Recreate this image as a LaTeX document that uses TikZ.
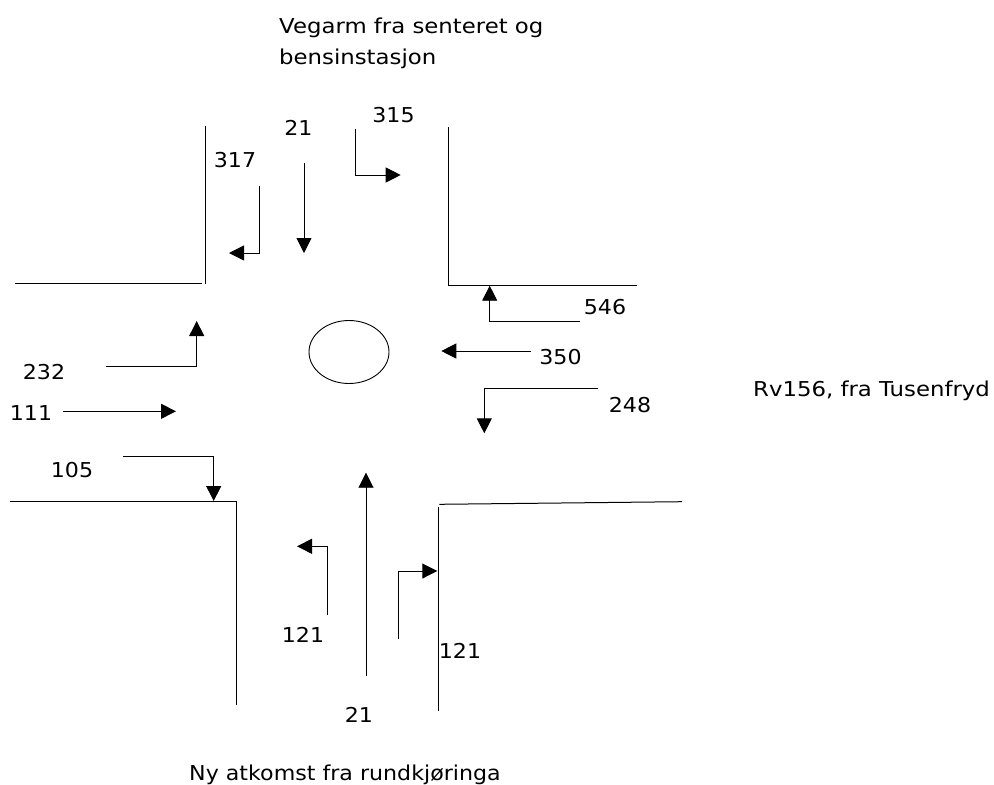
\documentclass[tikz,border=0pt]{standalone}
\usepackage{fontspec}
\setmainfont{DejaVu Sans}
\usetikzlibrary{arrows.meta, shapes.geometric}
\tikzset{
  arr/.style={-{Triangle[length=15pt,width=15pt]}, line width=0.9pt, draw=black},
  wall/.style={line width=1pt, draw=black},
  lab/.style={font=\fontsize{20.5}{31}\selectfont, align=left, inner sep=0pt, xscale=1.08},
  wide/.style={lab, xscale=1.03}
}

\begin{document}
\begin{tikzpicture}[x=1pt,y=-1pt]
\useasboundingbox (0,0) rectangle (994,785);
% labels
\node[wide, anchor=west] (north) at (279,43) {Vegarm fra senteret og\\bensinstasjon};
\node[wide, anchor=west] (east) at (753,391) {Rv156, fra Tusenfryd};
\node[lab, anchor=west] (south) at (189,775) {Ny atkomst fra rundkjøringa};
\node[lab] (n21) at (298.5,128) {21};
\node[lab] (n315) at (393.5,115) {315};
\node[lab] (n317) at (235,160) {317};
\node[lab] (n546) at (605,307) {546};
\node[lab] (n350) at (560.5,357) {350};
\node[lab] (n248) at (630,405) {248};
\node[lab] (n232) at (44,372) {232};
\node[lab] (n111) at (31,413) {111};
\node[lab] (n105) at (72,470) {105};
\node[lab] (s121a) at (303,634.5) {121};
\node[lab] (s121b) at (460,650.5) {121};
\node[lab] (s21) at (359,715) {21};
% curbs
\draw[wall] (205.7,126) -- (205.7,284);
\draw[wall] (15,283) -- (202,283);
\draw[wall] (448.7,127) -- (448.7,285.5) -- (636.7,285.5);
\draw[wall] (10,501.5) -- (236.3,501.5) -- (236.3,705);
\draw[wall] (682,501.7) -- (439.3,504.3);
\draw[wall] (438.7,506.7) -- (438.7,710.7);
% island
\node[draw, ellipse, line width=0.9pt, minimum width=80pt, minimum height=63pt, inner sep=0pt] (island) at (349,352) {};
% north arm
\coordinate (a1s) at (304,163); \coordinate (a1e) at (304,253);
\draw[arr] (a1s) -- (a1e);
\coordinate (a2s) at (355.7,129); \coordinate (a2e) at (400.7,175);
\draw[arr] (a2s) |- (a2e);
\coordinate (a3s) at (259,185.7); \coordinate (a3e) at (229,253);
\draw[arr] (a3s) |- (a3e);
% east arm
\coordinate (b1s) at (580,321.3); \coordinate (b1e) at (489.7,285.7);
\draw[arr] (b1s) -| (b1e);
\coordinate (b2s) at (530.7,351); \coordinate (b2e) at (441.3,351);
\draw[arr] (b2s) -- (b2e);
\coordinate (b3s) at (597.7,388.3); \coordinate (b3e) at (484.3,433.3);
\draw[arr] (b3s) -| (b3e);
% west arm
\coordinate (c1s) at (106,366); \coordinate (c1e) at (196.7,321);
\draw[arr] (c1s) -| (c1e);
\coordinate (c2s) at (63,411.3); \coordinate (c2e) at (176,411.3);
\draw[arr] (c2s) -- (c2e);
\coordinate (c3s) at (123,456.3); \coordinate (c3e) at (213.7,501);
\draw[arr] (c3s) -| (c3e);
% south arm
\coordinate (d1s) at (366,675.7); \coordinate (d1e) at (366,472.7);
\draw[arr] (d1s) -- (d1e);
\coordinate (d2s) at (327,614.7); \coordinate (d2e) at (297,546.3);
\draw[arr] (d2s) |- (d2e);
\coordinate (d3s) at (398,639); \coordinate (d3e) at (437.3,571);
\draw[arr] (d3s) |- (d3e);
\end{tikzpicture}
\end{document}
